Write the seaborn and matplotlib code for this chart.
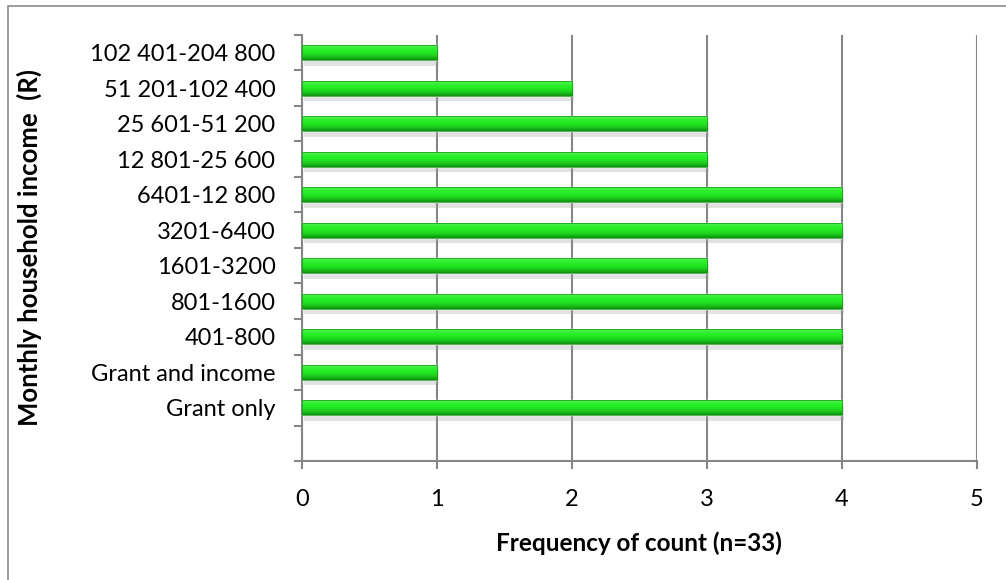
import numpy as np
import pandas as pd
import matplotlib
matplotlib.use("Agg")
import matplotlib.pyplot as plt
import matplotlib.patheffects as pe
from matplotlib.colors import LinearSegmentedColormap
from matplotlib.patches import Rectangle
import seaborn as sns

# Income bands, listed from the top of the chart downwards
income_bands = [
    "102 401-204 800",
    "51 201-102 400",
    "25 601-51 200",
    "12 801-25 600",
    "6401-12 800",
    "3201-6400",
    "1601-3200",
    "801-1600",
    "401-800",
    "Grant and income",
    "Grant only",
]
counts = [1, 2, 3, 3, 4, 4, 3, 4, 4, 1, 4]
x_ticks = [0, 1, 2, 3, 4, 5]
x_label = "Frequency of count (n=33)"
y_label = "Monthly household income  (R)"

sns.set_theme(style="white")
plt.rcParams["font.family"] = ["Lato", "DejaVu Sans"]

GRID = "#868686"
FS = 17

fig = plt.figure(figsize=(10.06, 5.80), dpi=100)
fig.patch.set_facecolor("white")
ax = fig.add_axes([0.300, 0.205, 0.671, 0.735])

df = pd.DataFrame({"band": income_bands, "count": counts})
sns.barplot(data=df, x="count", y="band", orient="h", order=income_bands,
            width=0.42, color="#22e622", saturation=1, ax=ax, zorder=3)

# Glossy green fill with a soft drop shadow on each bar
grad_cmap = LinearSegmentedColormap.from_list(
    "bar", [(0.0, "#66f566"), (0.15, "#36f036"), (0.45, "#22ea22"),
            (0.7, "#1ed21e"), (0.85, "#17b417"), (1.0, "#0e8c0e")])
grad = np.linspace(0, 1, 64).reshape(-1, 1)
for p in list(ax.patches):
    x0, y0 = p.get_x(), p.get_y()
    w, h = p.get_width(), p.get_height()
    p.set_path_effects([pe.SimplePatchShadow(offset=(1.5, -4), shadow_rgbFace="#a0a0a0", alpha=0.3),
                        pe.Normal()])
    im = ax.imshow(grad, extent=(x0, x0 + w, y0 + h, y0), aspect="auto",
                   cmap=grad_cmap, interpolation="bicubic", zorder=3.5)
    im.set_clip_path(p)
    ax.add_patch(Rectangle((x0, y0), w, h, fill=False, edgecolor="#139213",
                           linewidth=0.5, zorder=3.6))

ax.set_xlim(0, 5)
ax.set_ylim(len(income_bands) + 0.5, -0.5)

# Grid and axes
ax.set_axisbelow(True)
ax.xaxis.grid(True, color=GRID, linewidth=1.5)
ax.yaxis.grid(False)
for side in ("top", "right"):
    ax.spines[side].set_visible(False)
for side in ("left", "bottom"):
    ax.spines[side].set_color(GRID)
    ax.spines[side].set_linewidth(1.5)

ax.set_xticks(x_ticks)
ax.set_xticklabels([str(t) for t in x_ticks])
ax.tick_params(axis="x", bottom=True, length=6, width=1.5, color=GRID,
               pad=14, labelsize=FS, labelcolor="black")

# Tick marks between categories, labels centred on each bar
ax.set_yticks(np.arange(-0.5, len(income_bands) + 1, 1))
ax.set_yticklabels([""] * (len(income_bands) + 2))
ax.set_yticks(np.arange(len(income_bands)), minor=True)
ax.set_yticklabels(income_bands, minor=True)
ax.tick_params(axis="y", which="major", left=True, length=6, width=1.5, color=GRID)
ax.tick_params(axis="y", which="minor", left=True, length=0, pad=19,
               labelsize=FS, labelcolor="black")

ax.set_xlabel(x_label, fontsize=17.5, fontweight="bold", color="black")
ax.set_ylabel(y_label, fontsize=18.5, fontweight="bold", color="black")
ax.xaxis.set_label_coords(0.5, -0.1925)
ax.xaxis.label.set_va("center")
ax.yaxis.set_label_coords(-0.403, 0.5)
ax.yaxis.label.set_va("center")

# Chart-area frame
fig.add_artist(Rectangle((8 / 1006, -0.05), 1.5, 1.05 - 6 / 580, transform=fig.transFigure,
                         fill=False, edgecolor="#8c8c8c", linewidth=1.2))

fig.savefig("out.png", dpi=100)
